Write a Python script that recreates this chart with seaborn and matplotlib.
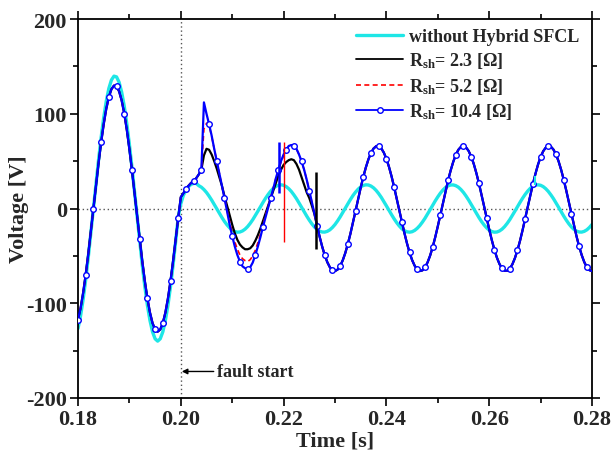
import numpy as np
import pandas as pd
import matplotlib
matplotlib.use("Agg")
import matplotlib.pyplot as plt
import seaborn as sns
from matplotlib.lines import Line2D
from matplotlib.ticker import MultipleLocator, FormatStrFormatter

# ---------------- data ----------------
# sampling grid: 0.18 s ... 0.28 s every 0.5 ms (201 samples)
time = np.round(np.linspace(0.18, 0.28, 201), 4)

# without Hybrid SFCL (cyan)
v_cyan = [
    -126.7, -113.3, -95.8, -75.0, -51.5, -26.2, 0.0, 26.2, 51.5, 75.0,
    95.8, 113.3, 126.7, 135.6, 139.7, 138.9, 133.2, 122.7, 107.9, 89.2,
    67.5, 43.3, 17.5, -8.8, -34.8, -59.6, -82.3, -102.1, -118.2, -130.2,
    -137.5, -140.0, -137.5, -130.2, -118.2, -102.1, -82.3, -59.6, -34.8, -8.8,
    5.0, 14.0, 19.0, 23.0, 25.5, 26.5, 26.5, 24.1, 22.5, 20.0,
    16.9, 13.1, 8.9, 4.4, -0.3, -5.0, -9.5, -13.7, -17.3, -20.4,
    -22.8, -24.3, -25.0, -24.8, -23.7, -21.8, -19.1, -15.7, -11.8, -7.4,
    -2.8, 1.9, 6.5, 10.9, 14.9, 18.4, 21.3, 23.4, 24.6, 25.0,
    24.5, 23.1, 20.9, 18.0, 14.4, 10.4, 5.9, 1.3, -3.4, -8.0,
    -12.3, -16.2, -19.5, -22.1, -23.9, -24.8, -24.9, -24.1, -22.5, -20.0,
    -16.9, -13.1, -8.9, -4.4, 0.3, 5.0, 9.5, 13.7, 17.3, 20.4,
    22.8, 24.3, 25.0, 24.8, 23.7, 21.8, 19.1, 15.7, 11.8, 7.4,
    2.8, -1.9, -6.5, -10.9, -14.9, -18.4, -21.3, -23.4, -24.6, -25.0,
    -24.5, -23.1, -20.9, -18.0, -14.4, -10.4, -5.9, -1.3, 3.4, 8.0,
    12.3, 16.2, 19.5, 22.1, 23.9, 24.8, 24.9, 24.1, 22.5, 20.0,
    16.9, 13.1, 8.9, 4.4, -0.3, -5.0, -9.5, -13.7, -17.3, -20.4,
    -22.8, -24.3, -25.0, -24.8, -23.7, -21.8, -19.1, -15.7, -11.8, -7.4,
    -2.8, 1.9, 6.5, 10.9, 14.9, 18.4, 21.3, 23.4, 24.6, 25.0,
    24.5, 23.1, 20.9, 18.0, 14.4, 10.4, 5.9, 1.3, -3.4, -8.0,
    -12.3, -16.2, -19.5, -22.1, -23.9, -24.8, -24.9, -24.1, -22.5, -20.0,
    -16.9,
]

# with SFCL: pre-fault part (0.1800-0.1995 s), shared by all R_sh cases
v_prefault = [
    -117.6, -105.2, -89.0, -69.7, -47.9, -24.4, 0.0, 24.4, 47.9, 69.7,
    89.0, 105.2, 117.6, 125.9, 129.7, 129.0, 123.6, 113.9, 100.2, 82.9,
    62.6, 40.2, 16.3, -8.2, -32.3, -55.4, -76.4, -94.8, -109.8, -120.9,
    -127.7, -130.0, -127.7, -120.9, -109.8, -94.8, -76.4, -55.4, -32.3, -10.0,
]

# fault transient (0.2000-0.2265 s) for each shunt resistance
v_fault_23 = [
    12, 16, 21, 24, 27, 29, 32, 36, 41, 56,
    63, 62, 57, 50, 42, 33, 24, 13, 3, -7,
    -17, -26, -33, -38, -41, -43, -43, -42, -39, -34,
    -28, -21, -13, -5, 3, 11, 19, 27, 35, 41,
    46, 49, 51, 52, 51, 47, 41, 33, 25, 17,
    11, 3, -5.8, -18.0,
]
v_fault_52 = [
    12, 16, 21, 24, 27, 29, 32, 36, 41, 84,
    90, 88, 76, 63, 50, 37, 24, 11, -2, -14,
    -25, -35, -43, -49, -53, -55, -56, -54, -50, -44,
    -36, -27, -17, -7, 2, 12, 22, 32, 41, 49,
    56, 62, 65, 67, 66, 63, 57.0, 49.8, 40.8, 30.3,
    18.8, 6.6, -5.8, -18.0,
]
v_fault_104 = [
    12, 16, 21, 24, 27, 29, 32, 36, 41, 112,
    100, 89, 77, 63, 50, 37, 24, 11, -3, -17,
    -29, -40, -49, -56, -61, -63, -64, -62, -57, -49,
    -40, -30, -19, -9, 1, 11, 21, 32, 41, 50,
    57, 62, 66, 67, 66, 63, 57.0, 49.8, 40.8, 30.3,
    18.8, 6.6, -5.8, -18.0,
]

# steady fault state (0.2270-0.2800 s), shared by all R_sh cases
v_steady = [
    -29.6, -40.1, -49.2, -56.6, -62.0, -65.1, -66.0, -64.5, -60.7, -54.8,
    -47.0, -37.4, -26.6, -14.8, -2.5, 9.9, 22.0, 33.2, 43.3, 51.9,
    58.6, 63.3, 65.7, 65.7, 63.5, 59.0, 52.4, 44.0, 34.0, 22.7,
    10.7, -1.7, -14.0, -25.8, -36.7, -46.4, -54.4, -60.4, -64.3, -66.0,
    -65.3, -62.2, -57.0, -49.8, -40.8, -30.3, -18.8, -6.6, 5.8, 18.0,
    29.6, 40.1, 49.2, 56.6, 62.0, 65.1, 66.0, 64.5, 60.7, 54.8,
    47.0, 37.4, 26.6, 14.8, 2.5, -9.9, -22.0, -33.2, -43.3, -51.9,
    -58.6, -63.3, -65.7, -65.7, -63.5, -59.0, -52.4, -44.0, -34.0, -22.7,
    -10.7, 1.7, 14.0, 25.8, 36.7, 46.4, 54.4, 60.4, 64.3, 66.0,
    65.3, 62.2, 57.0, 49.8, 40.8, 30.3, 18.8, 6.6, -5.8, -18.0,
    -29.6, -40.1, -49.2, -56.6, -62.0, -65.1, -66.0,
]

# short switching spikes (time, low, high)
spike_time = [0.2191, 0.2200, 0.2264, 0.2690]
spike_low = [16, -35, -43, 25]
spike_high = [70, 70, 39, 34]

labels = ["without Hybrid SFCL",
          r"R$_{\mathregular{sh}}$= 2.3 [Ω]",
          r"R$_{\mathregular{sh}}$= 5.2 [Ω]",
          r"R$_{\mathregular{sh}}$= 10.4 [Ω]"]

C_CYAN = "#1EE6E6"
C_BLACK = "#000000"
C_RED = "#FF0000"
C_BLUE = "#0000FF"
spike_color = [C_BLUE, C_RED, C_BLACK, C_CYAN]
spike_lw = [1.8, 1.0, 1.8, 1.5]

df = pd.DataFrame({
    "time": time,
    "cyan": v_cyan,
    "r23": v_prefault + v_fault_23 + v_steady,
    "r52": v_prefault + v_fault_52 + v_steady,
    "r104": v_prefault + v_fault_104 + v_steady,
})

# ---------------- style ----------------
sns.set_style("ticks")
plt.rcParams["font.family"] = ["Liberation Serif", "DejaVu Serif"]
plt.rcParams["font.weight"] = "bold"
plt.rcParams["axes.labelweight"] = "bold"
plt.rcParams["mathtext.default"] = "regular"
plt.rcParams["axes.unicode_minus"] = False
plt.rcParams["axes.linewidth"] = 1.3
plt.rcParams["axes.edgecolor"] = "black"

fig = plt.figure(figsize=(6.12, 4.64), dpi=100)
ax = fig.add_axes([78 / 612, 1 - 399 / 464, (592 - 78) / 612, (399 - 20) / 464])

# reference lines
ax.axhline(0, color="#555555", lw=1.0, ls=(0, (1, 2)), zorder=1)
ax.axvline(0.2, color="#555555", lw=1.0, ls=(0, (1, 2)), zorder=1)

sns.lineplot(data=df, x="time", y="cyan", ax=ax, color=C_CYAN, lw=2.4,
             estimator=None, zorder=2, legend=False)
sns.lineplot(data=df, x="time", y="r23", ax=ax, color=C_BLACK, lw=1.6,
             estimator=None, zorder=3, legend=False)
sns.lineplot(data=df, x="time", y="r52", ax=ax, color=C_RED, lw=1.2,
             dashes=False, linestyle=(0, (3, 2)), estimator=None, zorder=4,
             legend=False)
sns.lineplot(data=df, x="time", y="r104", ax=ax, color=C_BLUE, lw=1.6,
             marker="o", markevery=3, markersize=4.0, markerfacecolor="white",
             markeredgecolor=C_BLUE, markeredgewidth=1.0,
             estimator=None, zorder=5, legend=False)

for t, lo, hi, c, w in zip(spike_time, spike_low, spike_high, spike_color, spike_lw):
    ax.vlines(t, lo, hi, colors=c, lw=w, zorder=6)

# axes
ax.set_xlim(0.18, 0.28)
ax.set_ylim(-200, 200)
ax.xaxis.set_major_locator(MultipleLocator(0.02))
ax.xaxis.set_minor_locator(MultipleLocator(0.01))
ax.yaxis.set_major_locator(MultipleLocator(100))
ax.yaxis.set_minor_locator(MultipleLocator(50))
ax.xaxis.set_major_formatter(FormatStrFormatter("%.2f"))
ax.yaxis.set_major_formatter(FormatStrFormatter("%d"))
ax.tick_params(which="both", direction="out", top=True, right=True,
               labeltop=False, labelright=False, width=1.2, color="black")
ax.tick_params(which="major", length=6, labelsize=16, pad=2)
ax.tick_params(which="minor", length=3.5)
for lab in ax.get_xticklabels() + ax.get_yticklabels():
    lab.set_fontweight("bold")

ax.set_xlabel("Time [s]", fontsize=16, fontweight="bold", labelpad=1)
ax.set_ylabel("Voltage [V]", fontsize=16, fontweight="bold")
ax.yaxis.set_label_coords((29 - 78) / 514, 0.5)

# annotation
ax.annotate("", xy=(0.2002, -172), xytext=(0.2064, -172),
            arrowprops=dict(arrowstyle="-|>", color="black", lw=1.0,
                            mutation_scale=8, shrinkA=0, shrinkB=0))
ax.text(0.2070, -172, "fault start", fontsize=13, fontweight="bold",
        va="center", ha="left")

# legend
handles = [
    Line2D([], [], color=C_CYAN, lw=2.4),
    Line2D([], [], color=C_BLACK, lw=1.3),
    Line2D([], [], color=C_RED, lw=1.2, ls=(0, (3, 2))),
    Line2D([], [], color=C_BLUE, lw=1.3, marker="o", markersize=4.0,
           markerfacecolor="white", markeredgecolor=C_BLUE, markeredgewidth=1.0),
]
leg = ax.legend(handles, labels, loc="upper right", bbox_to_anchor=(0.992, 1.0),
                frameon=False, handlelength=2.6, handletextpad=0.3,
                labelspacing=0.3, borderaxespad=0.1,
                prop={"weight": "bold", "size": 13})

fig.savefig("out.png", dpi=100)
